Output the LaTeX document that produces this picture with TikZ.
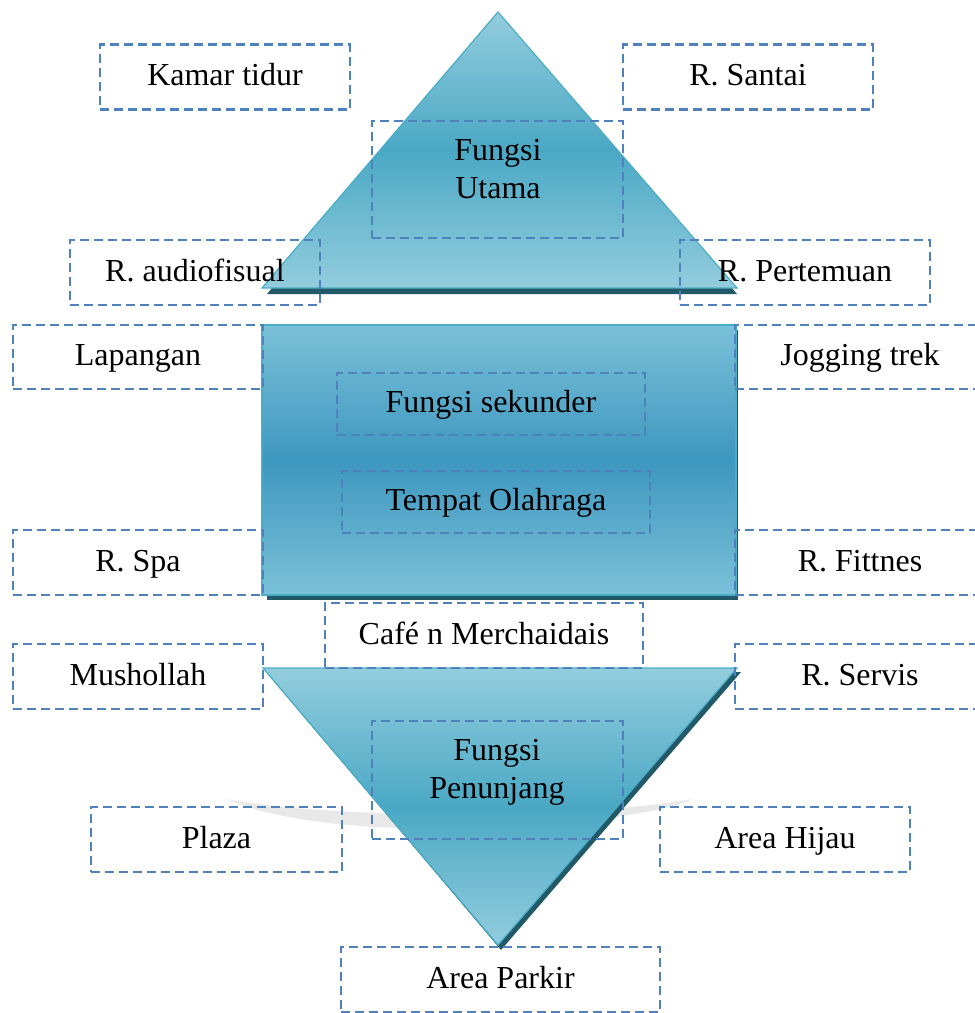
\documentclass[tikz,border=0pt]{standalone}
\usepackage{fontspec}
\setmainfont{Liberation Serif}
\definecolor{dashblue}{HTML}{4F81BD}
\definecolor{tealdark}{HTML}{215968}
\definecolor{teallight}{HTML}{93CDDD}
\definecolor{tealmid}{HTML}{4AA8C5}
\definecolor{rectlight}{HTML}{7AC1D9}
\definecolor{rectmid}{HTML}{3E97BF}
\definecolor{tealedge}{HTML}{4BACC6}
\definecolor{haze}{HTML}{E8E8E8}
\begin{document}
\begin{tikzpicture}[x=1pt,y=-1pt,
  room/.style={draw=dashblue, line width=2.6pt, dash pattern=on 9pt off 5pt,
    inner sep=0pt, minimum width=250pt, minimum height=65pt,
    text height=20pt, text depth=3pt, font=\fontsize{32}{38}\selectfont},
  caption/.style={font=\fontsize{32}{38}\selectfont, inner sep=0pt, anchor=base},
  tri/.style={draw=tealedge, line width=1.2pt, top color=teallight,
    bottom color=teallight, middle color=tealmid},
  slab/.style={draw=tealedge, line width=1.2pt, top color=rectlight,
    bottom color=rectlight, middle color=rectmid},
  shade/.style={fill=tealdark, draw=none}
]
\clip (0,0) rectangle (975,1013);

% soft grey reflection behind the lower triangle
\fill[haze] (227,799) .. controls (330,820) and (590,818) .. (693,799)
  .. controls (640,825) and (340,850) .. (227,799) -- cycle;

% dark drop shadows
\fill[shade] (498,18) -- (737,294) -- (267,294) -- cycle;
\fill[shade] (267,330) rectangle (738,600);
\fill[shade] (266,672) -- (741,672) -- (501,950) -- cycle;

% upper triangle, middle slab, lower triangle
\path[tri] (498,12) -- (737,288) -- (262,288) -- cycle;
\path[slab] (262,325) rectangle (736,595);
\path[tri] (263,668) -- (737,668) -- (498,945) -- cycle;

% dashed room boxes
\node[room] (kamar) at (225,77) {Kamar tidur};
\node[room] (santai) at (748,77) {R. Santai};
\node[room, minimum width=251pt, minimum height=117pt] (utama) at (497.5,179.5) {};
\node[room] (audio) at (195,272.5) {R. audiofisual};
\node[room] (pertemuan) at (805,272.5) {R. Pertemuan};
\node[room, minimum height=64pt] (lapangan) at (138,357) {Lapangan};
\node[room, minimum height=64pt] (jogging) at (860,357) {Jogging trek};
\node[room, minimum width=308pt, minimum height=62pt] (sekunder) at (491,404) {Fungsi sekunder};
\node[room, minimum width=308pt, minimum height=62pt] (olahraga) at (496,502) {Tempat Olahraga};
\node[room] (spa) at (138,562.5) {R. Spa};
\node[room] (fittnes) at (860,562.5) {R. Fittnes};
\node[room, minimum width=318pt] (cafe) at (484,635.5) {Café n Merchaidais};
\node[room] (musholla) at (138,676.5) {Mushollah};
\node[room] (servis) at (860,676.5) {R. Servis};
\node[room, minimum width=251pt, minimum height=118pt] (penunjang) at (497.5,780) {};
\node[room, minimum width=251pt] (plaza) at (216.5,839.5) {Plaza};
\node[room] (hijau) at (785,839.5) {Area Hijau};
\node[room, minimum width=319pt] (parkir) at (500.5,979.5) {Area Parkir};

% two-line titles inside the triangles
\node[caption] (utamaA) at (498,160) {Fungsi};
\node[caption] (utamaB) at (498,198) {Utama};
\node[caption] (penA) at (497,760) {Fungsi};
\node[caption] (penB) at (497,798) {Penunjang};
\end{tikzpicture}
\end{document}
